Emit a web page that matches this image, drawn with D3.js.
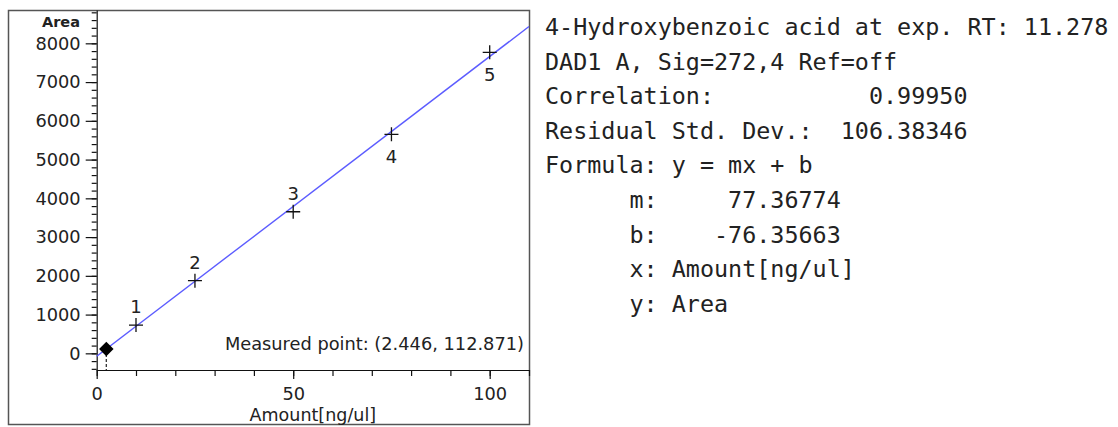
<!DOCTYPE html>
<html>
<head>
<meta charset="utf-8">
<script src="https://cdn.jsdelivr.net/npm/d3@7"></script>
<style>
  body { margin: 0; background: #fff; }
  text { fill: #222; }
</style>
</head>
<body>
<div class="chart"></div>
<script>
// calibration data
var amounts = [10, 25, 50, 75, 100];
var areas = [730, 1874, 3654, 5652, 7768];
var pointLabels = ["1", "2", "3", "4", "5"];
var labelSide = ["above", "above", "above", "below", "below"];

var slope = 77.36774;
var intercept = -76.35663;
var measured = [2.446, 112.871];

var xTicks = [0, 50, 100];
var yTicks = [0, 1000, 2000, 3000, 4000, 5000, 6000, 7000, 8000];

var infoLines = [
  "4-Hydroxybenzoic acid at exp. RT: 11.278",
  "DAD1 A, Sig=272,4 Ref=off",
  "Correlation:           0.99950",
  "Residual Std. Dev.:  106.38346",
  "Formula: y = mx + b",
  "      m:     77.36774",
  "      b:    -76.35663",
  "      x: Amount[ng/ul]",
  "      y: Area"
];

var svgWidth = 1118;
var svgHeight = 427;

var svg = d3.select(".chart")
  .append("svg")
  .attr("width", svgWidth)
  .attr("height", svgHeight);

// outer frame of the plot panel
svg.append("rect")
  .attr("x", 8.5)
  .attr("y", 10.5)
  .attr("width", 521)
  .attr("height", 414)
  .attr("fill", "none")
  .attr("stroke", "#555")
  .attr("stroke-width", 1.5);

var xScale = d3.scaleLinear().domain([0, 110]).range([96.7, 529]);
var yScale = d3.scaleLinear().domain([-430, 8860]).range([370, 10]);

var tickFont = "DejaVu Sans, Verdana, sans-serif";

// y axis: major ticks with labels, minor ticks every 200
var yAxis = d3.axisLeft(yScale)
  .tickValues(yTicks)
  .tickSize(11)
  .tickSizeOuter(0)
  .tickPadding(5)
  .tickFormat(d3.format("d"));

var yAxisG = svg.append("g")
  .attr("transform", `translate(${xScale(0)},0)`)
  .call(yAxis);

var yMinor = d3.axisLeft(yScale)
  .tickValues(d3.range(-400, 8801, 200))
  .tickSize(5)
  .tickSizeOuter(0)
  .tickFormat("");

svg.append("g")
  .attr("transform", `translate(${xScale(0)},0)`)
  .call(yMinor)
  .select(".domain").remove();

// x axis
var xAxis = d3.axisBottom(xScale)
  .tickValues(xTicks)
  .tickSize(9)
  .tickSizeOuter(0)
  .tickPadding(8);

var xAxisG = svg.append("g")
  .attr("transform", `translate(0,${yScale(-430)})`)
  .call(xAxis);

var xMinor = d3.axisBottom(xScale)
  .tickValues(d3.range(0, 111, 10))
  .tickSize(6)
  .tickSizeOuter(0)
  .tickFormat("");

svg.append("g")
  .attr("transform", `translate(0,${yScale(-430)})`)
  .call(xMinor)
  .select(".domain").remove();

svg.selectAll(".domain, .tick line")
  .attr("stroke", "#111")
  .attr("stroke-width", 1.2);

[yAxisG, xAxisG].forEach(function(g) {
  g.selectAll("text")
    .attr("font-family", tickFont)
    .attr("font-size", 17.8)
    .attr("fill", "#1a1a1a");
});

// axis titles
svg.append("text")
  .attr("x", 80)
  .attr("y", 27)
  .attr("text-anchor", "end")
  .attr("font-family", tickFont)
  .attr("font-size", 14.5)
  .attr("font-weight", "bold")
  .text("Area");

svg.append("text")
  .attr("x", xScale(55))
  .attr("y", 421)
  .attr("text-anchor", "middle")
  .attr("font-family", tickFont)
  .attr("font-size", 17.5)
  .text("Amount[ng/ul]");

// regression line
svg.append("line")
  .attr("x1", xScale(0))
  .attr("y1", yScale(intercept))
  .attr("x2", xScale(110))
  .attr("y2", yScale(slope * 110 + intercept))
  .attr("stroke", "#5c5cff")
  .attr("stroke-width", 1.4);

// calibration points as crosses
var points = amounts.map(function(a, i) {
  return { x: a, y: areas[i], label: pointLabels[i], side: labelSide[i] };
});

var crossGroup = svg.append("g");
points.forEach(function(p) {
  var cx = xScale(p.x), cy = yScale(p.y);
  crossGroup.append("path")
    .attr("d", `M${cx - 7},${cy}H${cx + 7}M${cx},${cy - 7}V${cy + 7}`)
    .attr("stroke", "#111")
    .attr("stroke-width", 1.3)
    .attr("fill", "none");
  crossGroup.append("text")
    .attr("x", cx)
    .attr("y", p.side === "above" ? cy - 12 : cy + 29)
    .attr("text-anchor", "middle")
    .attr("font-family", tickFont)
    .attr("font-size", 18)
    .attr("fill", "#333")
    .text(p.label);
});

// measured point: dashed drop line and diamond
var mx = xScale(measured[0]), my = yScale(measured[1]);
svg.append("line")
  .attr("x1", mx).attr("y1", my)
  .attr("x2", mx).attr("y2", yScale(-430))
  .attr("stroke", "#333")
  .attr("stroke-width", 1.3)
  .attr("stroke-dasharray", "3,2");

svg.append("path")
  .attr("d", d3.symbol().type(d3.symbolDiamond2).size(135))
  .attr("transform", `translate(${mx},${my})`)
  .attr("fill", "#000");

svg.append("text")
  .attr("x", 524)
  .attr("y", 350)
  .attr("text-anchor", "end")
  .attr("font-family", tickFont)
  .attr("font-size", 17.8)
  .attr("fill", "#333")
  .text(`Measured point: (${measured[0]}, ${measured[1]})`);

// result text block on the right
var info = svg.append("g")
  .attr("font-family", "DejaVu Sans Mono, Liberation Mono, monospace")
  .attr("font-size", 23.4);

info.selectAll("text")
  .data(infoLines)
  .enter()
  .append("text")
  .attr("x", 545)
  .attr("y", (d, i) => 35 + i * 34.6)
  .attr("fill", "#111")
  .style("white-space", "pre")
  .text(d => d);
</script>
</body>
</html>
